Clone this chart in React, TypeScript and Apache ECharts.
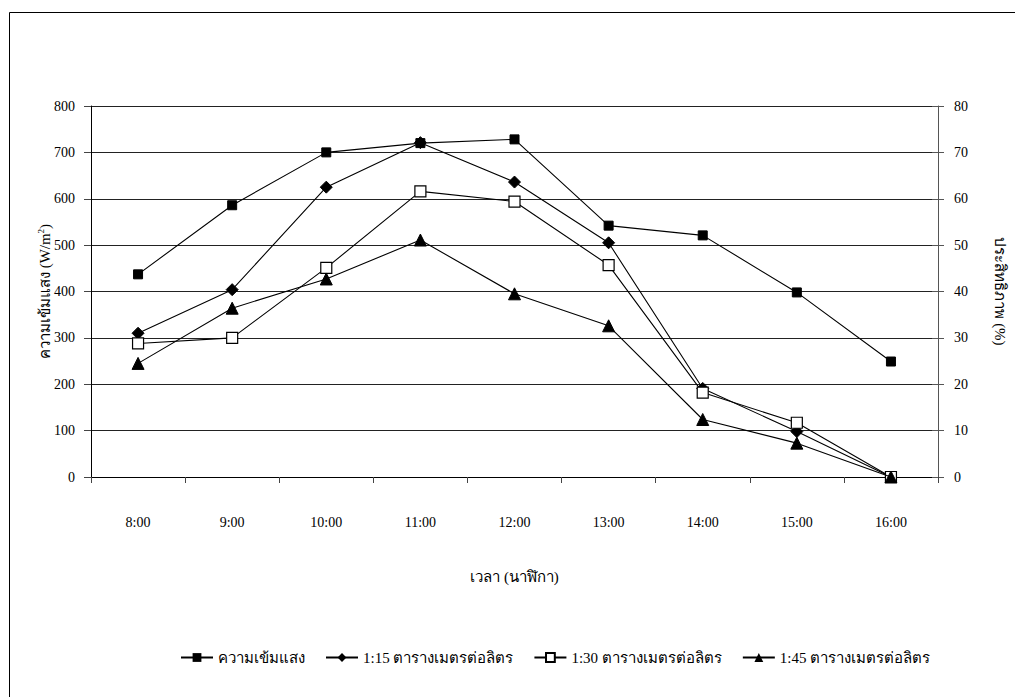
import React, { useEffect, useRef } from "react";
import * as echarts from "echarts";

// Hours of the day (x axis)
const hours = ["8:00", "9:00", "10:00", "11:00", "12:00", "13:00", "14:00", "15:00", "16:00"];

// Light intensity, W/m² (left axis)
const lightIntensity = [437, 586, 700, 720, 728, 542, 521, 398, 249];

// Efficiency, % (right axis), per area ratio
const eff115 = [31.0, 40.4, 62.5, 72.1, 63.6, 50.5, 19.1, 9.8, 0];
const eff130 = [28.8, 30.0, 45.1, 61.6, 59.4, 45.7, 18.2, 11.7, 0];
const eff145 = [24.5, 36.4, 42.7, 51.1, 39.5, 32.6, 12.4, 7.3, 0];

const seriesNames = [
  "ความเข้มแสง",
  "1:15 ตารางเมตรต่อลิตร",
  "1:30 ตารางเมตรต่อลิตร",
  "1:45 ตารางเมตรต่อลิตร",
];

const FONT = "'Liberation Serif', 'Times New Roman', serif";

export default function App() {
  const ref = useRef<HTMLDivElement>(null);

  useEffect(() => {
    if (!ref.current) return;
    const chart = echarts.init(ref.current, null, { renderer: "svg" });

    const lineStyle = { color: "#000", width: 1.1 };

    chart.setOption({
      animation: false,
      backgroundColor: "#fff",
      textStyle: { fontFamily: FONT, color: "#000" },
      graphic: [
        {
          type: "rect",
          shape: { x: 9.5, y: 12.5, width: 1100, height: 800 },
          style: { fill: "none", stroke: "#000", lineWidth: 1 },
          silent: true,
        },
      ],
      grid: { left: 91, right: 76, top: 106, bottom: 220, containLabel: false },
      legend: {
        bottom: 27,
        left: 175,
        itemGap: 20,
        itemWidth: 32,
        itemHeight: 11,
        textStyle: { fontFamily: FONT, fontSize: 15, color: "#000" },
        data: seriesNames,
      },
      xAxis: {
        type: "category",
        data: hours,
        boundaryGap: true,
        name: "เวลา (นาฬิกา)",
        nameLocation: "middle",
        nameGap: 92,
        nameMoveOverlap: false,
        nameTextStyle: { fontFamily: FONT, fontSize: 15, color: "#000" },
        axisLine: { lineStyle: { color: "#000", width: 1 } },
        axisTick: { show: true, length: 6, interval: 0, lineStyle: { color: "#444" } },
        axisLabel: { margin: 38, fontSize: 14, color: "#000", fontFamily: FONT, interval: 0 },
        splitLine: { show: false },
      },
      yAxis: [
        {
          type: "value",
          min: 0,
          max: 800,
          interval: 100,
          position: "left",
          name: "ความเข้มแสง (W/m{sup|2})",
          nameLocation: "middle",
          nameRotate: 90,
          nameGap: 38,
          nameMoveOverlap: false,
          nameTextStyle: {
            fontFamily: FONT,
            fontSize: 15,
            color: "#000",
            rich: { sup: { fontSize: 9, verticalAlign: "top", padding: [0, 0, 8, 0], fontFamily: FONT } },
          },
          axisLine: { show: true, lineStyle: { color: "#000", width: 1 } },
          axisTick: { show: true, length: 7, lineStyle: { color: "#444" } },
          axisLabel: { margin: 16, fontSize: 14, color: "#000", fontFamily: FONT },
          splitLine: { show: true, lineStyle: { color: "#222", width: 1 } },
        },
        {
          type: "value",
          min: 0,
          max: 80,
          interval: 10,
          position: "right",
          name: "ประสิทธิภาพ (%)",
          nameLocation: "middle",
          nameRotate: -90,
          nameGap: 54,
          nameMoveOverlap: false,
          nameTextStyle: { fontFamily: FONT, fontSize: 15, color: "#000" },
          axisLine: { show: true, lineStyle: { color: "#555", width: 1 } },
          axisTick: { show: true, length: 6, lineStyle: { color: "#555" } },
          axisLabel: { margin: 16, fontSize: 14, color: "#000", fontFamily: FONT },
          splitLine: { show: false },
        },
        {
          // inner half of the crossing ticks on the right axis
          type: "value",
          min: 0,
          max: 80,
          interval: 10,
          position: "right",
          axisLine: { show: false },
          axisTick: { show: true, inside: true, length: 6, lineStyle: { color: "#555" } },
          axisLabel: { show: false },
          splitLine: { show: false },
        },
      ],
      series: [
        {
          name: seriesNames[0],
          type: "line",
          yAxisIndex: 0,
          data: lightIntensity,
          symbol: "rect",
          symbolSize: 9,
          itemStyle: { color: "#000", borderColor: "#000" },
          lineStyle,
          z: 3,
        },
        {
          name: seriesNames[1],
          type: "line",
          yAxisIndex: 1,
          data: eff115,
          symbol: "diamond",
          symbolSize: 12,
          itemStyle: { color: "#000", borderColor: "#000" },
          lineStyle,
          z: 4,
        },
        {
          name: seriesNames[2],
          type: "line",
          yAxisIndex: 1,
          data: eff130,
          symbol: "rect",
          symbolSize: 11,
          itemStyle: { color: "#fff", borderColor: "#000", borderWidth: 1.2 },
          lineStyle,
          z: 5,
        },
        {
          name: seriesNames[3],
          type: "line",
          yAxisIndex: 1,
          data: eff145,
          symbol: "triangle",
          symbolSize: 12,
          itemStyle: { color: "#000", borderColor: "#000" },
          lineStyle,
          z: 6,
        },
      ],
    });

    return () => chart.dispose();
  }, []);

  return (
    <div
      ref={ref}
      style={{ position: "fixed", left: 0, top: 0, width: 1015, height: 697, background: "#fff" }}
    />
  );
}
